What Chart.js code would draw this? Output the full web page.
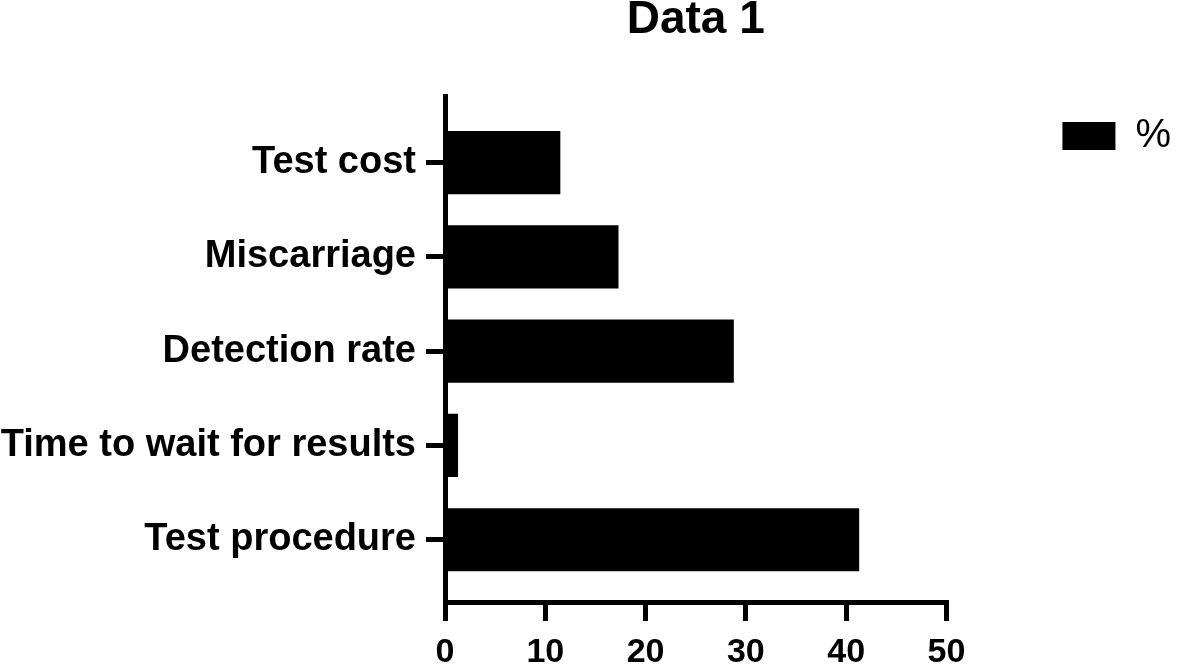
<!doctype html>
<html lang="en">
<head>
    <meta charset="UTF-8">
    <title>Data 1</title>
    <script src="https://cdn.jsdelivr.net/npm/chart.js"></script>
    <style>
        html, body { margin: 0; padding: 0; background: #fff; }
        #wrap { width: 1181px; height: 667px; }
    </style>
</head>
<body>
<div id="wrap"><canvas id="barChart"></canvas></div>

<script>
    // data
    const categories = ['Test cost', 'Miscarriage', 'Detection rate', 'Time to wait for results', 'Test procedure'];
    const percentValues = [11.5, 17.3, 28.8, 1.3, 41.3];
    const xTickValues = [0, 10, 20, 30, 40, 50];
    const seriesLabel = '%';
    const chartTitle = 'Data 1';

    const FONT = "'Liberation Sans', Arial, Helvetica, sans-serif";

    // shared axis look: thick black line, outside tick marks, no grid
    function axisStyle() {
        return {
            offset: false,
            grid: { offset: false, drawOnChartArea: false, drawTicks: true, tickLength: 19, lineWidth: 5, color: '#000' },
            border: { display: true, color: '#000', width: 5 }
        };
    }

    const ctx = document.getElementById('barChart').getContext('2d');
    new Chart(ctx, {
        type: 'bar',
        data: {
            datasets: [{
                label: seriesLabel,
                data: percentValues.map((v, i) => ({ x: v, y: i })),
                backgroundColor: '#000',
                borderWidth: 0,
                categoryPercentage: 1,
                barPercentage: 0.67
            }]
        },
        options: {
            indexAxis: 'y',
            responsive: true,
            maintainAspectRatio: false,
            animation: false,
            layout: { padding: 0 },
            scales: {
                x: {
                    type: 'linear',
                    min: xTickValues[0],
                    max: xTickValues[xTickValues.length - 1],
                    afterBuildTicks: s => { s.ticks = xTickValues.map(v => ({ value: v })); },
                    afterFit: s => { s.height = 65; },
                    ticks: {
                        color: '#000',
                        padding: 11,
                        font: { family: FONT, size: 34, weight: 'bold' }
                    },
                    ...axisStyle()
                },
                y: {
                    type: 'linear',
                    reverse: true,
                    min: -0.7,
                    max: 4.66,
                    afterBuildTicks: s => { s.ticks = categories.map((c, i) => ({ value: i })); },
                    afterFit: s => { s.width = 445; },
                    ticks: {
                        autoSkip: false,
                        color: '#000',
                        padding: 10,
                        font: { family: FONT, size: 38, weight: 'bold' },
                        callback: v => categories[v]
                    },
                    ...axisStyle()
                }
            },
            plugins: {
                title: {
                    display: true,
                    text: chartTitle,
                    fullSize: false,
                    color: '#000',
                    font: { family: FONT, size: 46, weight: 'bold', lineHeight: 0.86 },
                    padding: { top: 1, bottom: 56 }
                },
                legend: {
                    position: 'right',
                    align: 'start',
                    labels: {
                        boxWidth: 53,
                        boxHeight: 28,
                        padding: 116,
                        color: '#000',
                        font: { family: FONT, size: 40 }
                    }
                },
                tooltip: { enabled: false }
            }
        }
    });
</script>
</body>
</html>
